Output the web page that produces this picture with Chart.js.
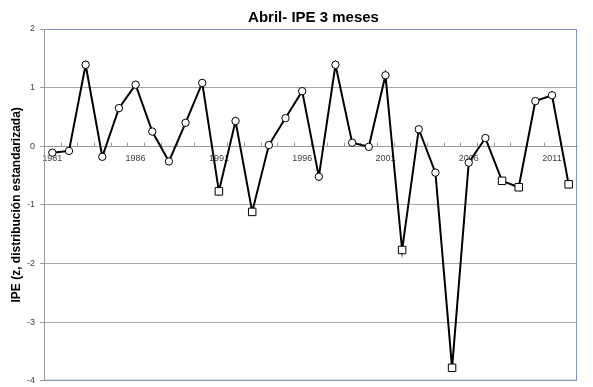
<!DOCTYPE html>
<html><head><meta charset="utf-8">
<script src="https://cdn.jsdelivr.net/npm/chart.js@4/dist/chart.umd.min.js"></script>
<style>html,body{margin:0;padding:0;background:#fff}</style>
</head><body>
<canvas id="c" width="593" height="387"></canvas>
<script>
const years = ['1981','1982','1983','1984','1985','1986','1987','1988','1989','1990',
  '1991','1992','1993','1994','1995','1996','1997','1998','1999','2000',
  '2001','2002','2003','2004','2005','2006','2007','2008','2009','2010','2011','2012'];
const ipe = [-0.11, -0.08, 1.39, -0.18, 0.65, 1.05, 0.25, -0.26, 0.40, 1.08,
  -0.77, 0.43, -1.12, 0.02, 0.48, 0.94, -0.52, 1.39, 0.06, -0.01,
  1.21, -1.77, 0.29, -0.45, -3.78, -0.28, 0.14, -0.59, -0.70, 0.77, 0.87, -0.65];
const yMin = -4, yMax = 2, yStep = 1;
const labelEvery = 5;
const chartTitle = 'Abril- IPE 3 meses';
const yAxisTitle = 'IPE (z, distribución estandarizada)';

const frame = {
  id: 'frame',
  beforeDatasetsDraw(chart) {
    const {ctx, chartArea: a, scales} = chart;
    ctx.save();
    ctx.strokeStyle = '#7f97c2';
    ctx.lineWidth = 1;
    ctx.beginPath();
    ctx.moveTo(a.left, a.top + 0.5); ctx.lineTo(a.right - 0.5, a.top + 0.5);
    ctx.lineTo(a.right - 0.5, a.bottom - 0.5); ctx.lineTo(a.left, a.bottom - 0.5);
    ctx.stroke();
    // x axis tick marks (upward) at category boundaries
    const y0 = Math.round(scales.y.getPixelForValue(0)) + 0.5;
    const n = years.length, w = (a.right - a.left) / n;
    ctx.strokeStyle = '#9a9a9a';
    ctx.beginPath();
    for (let i = 1; i < n; i++) {
      const px = Math.round(a.left + i * w) + 0.5;
      ctx.moveTo(px, y0); ctx.lineTo(px, y0 - 4);
    }
    ctx.stroke();
    // title
    ctx.fillStyle = '#000';
    ctx.font = 'bold 15px "Liberation Sans", Arial, sans-serif';
    ctx.textAlign = 'center';
    ctx.textBaseline = 'middle';
    ctx.fillText(chartTitle, (a.left + a.right) / 2 + 3, 18);
    ctx.restore();
  }
};

new Chart(document.getElementById('c'), {
  type: 'line',
  data: {
    labels: years,
    datasets: [{
      data: ipe,
      borderColor: '#000',
      borderWidth: 2,
      tension: 0,
      pointBackgroundColor: '#fff',
      pointBorderColor: '#000',
      pointBorderWidth: 1,
      pointStyle: c => (c.raw < -0.55 ? 'rect' : 'circle'),
      pointRadius: c => (c.raw < -0.55 ? 5.3 : 3.7)
    }]
  },
  options: {
    responsive: false,
    animation: false,
    layout: { padding: { top: 29, right: 16, bottom: 2, left: 0 } },
    plugins: { legend: { display: false }, title: { display: false }, tooltip: { enabled: false } },
    scales: {
      x: {
        type: 'category',
        position: { y: 0 },
        offset: true,
        grid: { display: true, drawOnChartArea: false, drawTicks: false, offset: true },
        border: { display: true, color: '#9a9a9a', width: 1 },
        ticks: {
          autoSkip: false, maxRotation: 0, minRotation: 0, padding: 7,
          color: '#404040',
          font: { family: '"Liberation Sans", Arial, sans-serif', size: 9 },
          callback: function(v, i) { return i % labelEvery === 0 ? years[i] : ''; }
        }
      },
      y: {
        min: yMin, max: yMax,
        ticks: {
          stepSize: yStep, padding: 5, color: '#404040',
          font: { family: '"Liberation Sans", Arial, sans-serif', size: 9 }
        },
        grid: { color: '#a6a6a6', lineWidth: 1, tickLength: 4, tickColor: '#9a9a9a' },
        border: { display: true, color: '#9a9a9a', width: 1 },
        title: {
          display: true, text: yAxisTitle, color: '#000',
          font: { family: '"Liberation Sans", Arial, sans-serif', size: 12, weight: 'bold' },
          padding: { top: 9, bottom: 0 }
        },
        afterFit(s) { s.width = 44; s.paddingTop = 0; s.paddingBottom = 0; }
      }
    }
  },
  plugins: [frame]
});
</script>
</body></html>
